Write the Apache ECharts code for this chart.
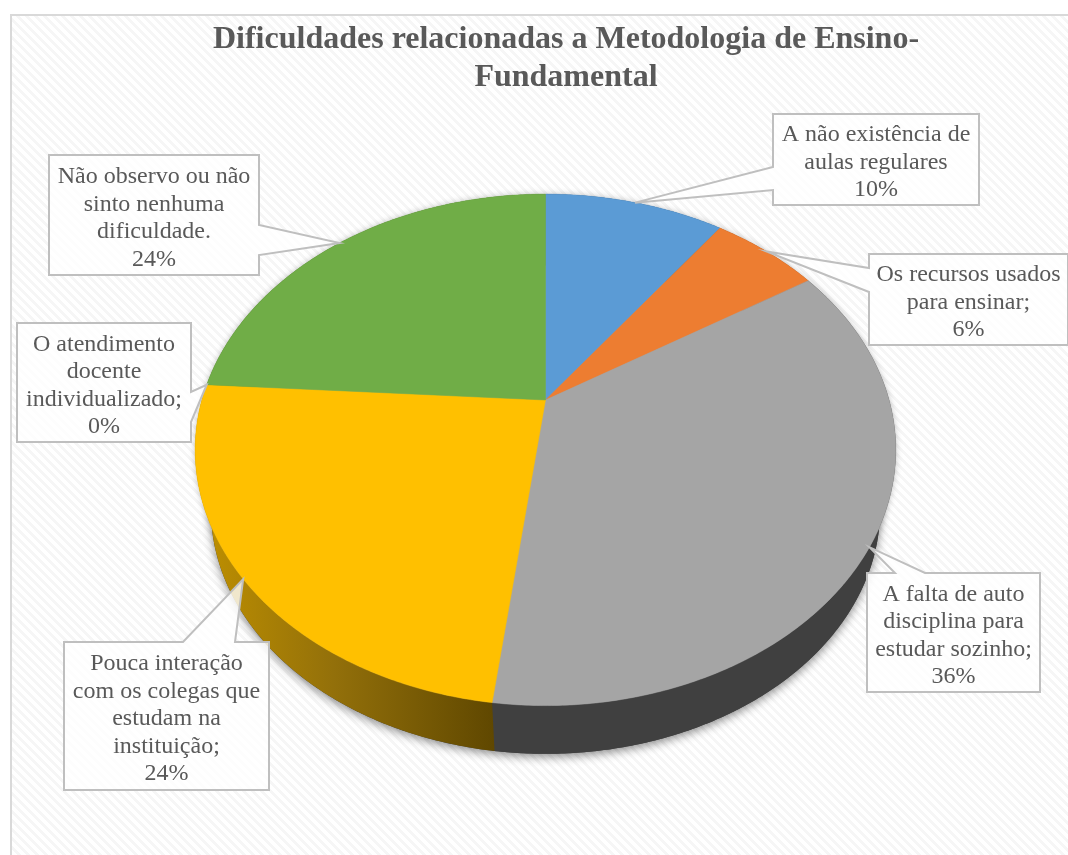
<!DOCTYPE html>
<html><head><meta charset="utf-8">
<style>html,body{margin:0;padding:0;background:#fff}#c{width:1068px;height:855px}</style>
<script src="https://cdn.jsdelivr.net/npm/echarts@6/dist/echarts.min.js"></script>
</head><body><div id="c"></div>
<script>
const titleText = 'Dificuldades relacionadas a Metodologia de Ensino-\nFundamental';
const categories = [
  'A não existência de\naulas regulares',
  'Os recursos usados\npara ensinar;',
  'A falta de auto\ndisciplina para\nestudar sozinho;',
  'Pouca interação\ncom os colegas que\nestudam na\ninstituição;',
  'O atendimento\ndocente\nindividualizado;',
  'Não observo ou não\nsinto nenhuma\ndificuldade.'
];
const values = [10, 6, 36, 24, 0, 24];
const colors = ['#5b9bd5', '#ed7d31', '#a5a5a5', '#ffc000', '#4472c4', '#70ad47'];
// callout boxes: x0, y0, x1, y1, side carrying the leader, leader base start, leader base end
const boxes = [
  [773, 114, 979, 205, 'l', 167, 190],
  [869, 254, 1068, 345, 'l', 268, 292],
  [867, 573, 1040, 692, 't', 895, 925],
  [64, 642, 269, 790, 't', 183, 235],
  [17, 323, 191, 442, 'r', 392, 422],
  [49, 155, 259, 275, 'r', 225, 255]
];

const FONT = '"Liberation Serif","Times New Roman",serif';
const TEXT = '#595959', EDGE = '#bfbfbf';
const CX = 545.5, CY = 400, K = 0.195, A = 246, R = 343.6;
const DEPTH = 62, SHRINK = 0.955;

const total = values.reduce((a, b) => a + b, 0);
const starts = [];
values.reduce((acc, v, i) => (starts[i] = acc, acc + v), 0);

// perspective projection of a point on the unit pie disc
function proj(deg, r = 1, lower = false) {
  const t = deg * Math.PI / 180, u = r * Math.sin(t), v = r * Math.cos(t), w = 1 + K * v;
  const s = lower ? SHRINK : 1, dy = lower ? DEPTH : 0;
  return [CX + s * R * u / w, CY + dy - s * A * v / w];
}
function arc(d0, d1, lower) {
  const pts = [], n = Math.max(1, Math.ceil(Math.abs(d1 - d0) * 2));
  for (let i = 0; i <= n; i++) pts.push(proj(d0 + (d1 - d0) * i / n, 1, lower));
  return pts;
}
const deg = i => starts[i] / total * 360;
const degEnd = i => (starts[i] + values[i]) / total * 360;

const patternCanvas = document.createElement('canvas');
patternCanvas.width = patternCanvas.height = 9;
(function () {
  const g = patternCanvas.getContext('2d');
  g.fillStyle = '#ffffff'; g.fillRect(0, 0, 9, 9);
  g.fillStyle = '#f6f6f6';
  for (let y = 0; y < 9; y++) for (let x = 0; x < 9; x++)
    if (((x - y) % 9 + 9) % 9 < 4) g.fillRect(x, y, 1, 1);
})();

function sideGradient() {
  return new echarts.graphic.LinearGradient(200, 0, 496, 0, [
    { offset: 0, color: '#bf9000' }, { offset: 0.45, color: '#93700a' }, { offset: 1, color: '#5f4700' }
  ], true);
}
const sideFill = ['#2f5f8a', '#a0541f', '#404040', null, '#2c4a80', '#4a7330'];

const rows = values.map((v, i) => ({ name: categories[i], value: v }));

const chart = echarts.init(document.getElementById('c'), null, { renderer: 'canvas' });
chart.setOption({
  animation: false,
  backgroundColor: '#ffffff',
  title: {
    text: titleText, left: 561, top: 16, textAlign: 'center',
    textStyle: { fontFamily: FONT, fontSize: 32, fontWeight: 'bold', color: TEXT, lineHeight: 38 }
  },
  graphic: [{
    type: 'rect', z: -1, silent: true,
    shape: { x: 11, y: 15, width: 1080, height: 860 },
    style: { fill: { image: patternCanvas, repeat: 'repeat' }, stroke: '#d9d9d9', lineWidth: 2 }
  }],
  series: [
    { // soft shadow and extruded side
      type: 'custom', coordinateSystem: 'none', z: 2, silent: true, data: rows,
      renderItem(p) {
        const i = p.dataIndex, children = [];
        if (i === 0) {
          children.push({ type: 'polygon', shape: { points: arc(0, 360, true) },
            style: { fill: '#404040', shadowBlur: 10, shadowColor: 'rgba(0,0,0,0.45)', shadowOffsetY: 3 } });
          children.push({ type: 'polygon', shape: { points: arc(0, 360, false) },
            style: { fill: '#a5a5a5', shadowBlur: 6, shadowColor: 'rgba(0,0,0,0.25)' } });
        }
        if (values[i] > 0) {
          const top = arc(deg(i), degEnd(i), false), low = arc(deg(i), degEnd(i), true).reverse();
          children.push({ type: 'polygon', shape: { points: top.concat(low) },
            style: { fill: sideFill[i] || sideGradient(), stroke: null } });
        }
        return { type: 'group', children };
      }
    },
    { // pie top faces
      type: 'custom', coordinateSystem: 'none', z: 3, silent: true, data: rows,
      renderItem(p) {
        const i = p.dataIndex;
        if (!values[i]) return { type: 'group', children: [] };
        return { type: 'polygon', shape: { points: [[CX, CY]].concat(arc(deg(i), degEnd(i), false)) },
          style: { fill: colors[i], stroke: colors[i], lineWidth: 0.5 } };
      }
    },
    { // callout labels
      type: 'custom', coordinateSystem: 'none', z: 4, silent: true, data: rows,
      renderItem(p) {
        const i = p.dataIndex, b = boxes[i];
        const [x0, y0, x1, y1, side, a, c] = b;
        const tip = proj((deg(i) + degEnd(i)) / 2);
        let pts;
        if (side === 'l') pts = [[x0, y0], [x1, y0], [x1, y1], [x0, y1], [x0, c], tip, [x0, a]];
        else if (side === 'r') pts = [[x0, y0], [x1, y0], [x1, a], tip, [x1, c], [x1, y1], [x0, y1]];
        else pts = [[x0, y0], [a, y0], tip, [c, y0], [x1, y0], [x1, y1], [x0, y1]];
        return { type: 'group', children: [
          { type: 'polygon', shape: { points: pts },
            style: { fill: 'rgba(255,255,255,0.8)', stroke: EDGE, lineWidth: 2 } },
          { type: 'text', style: {
              text: categories[i] + '\n' + values[i] + '%',
              x: (x0 + x1) / 2, y: (y0 + y1) / 2 + 3, align: 'center', verticalAlign: 'middle',
              fontFamily: FONT, fontSize: 24, lineHeight: 27.5, fill: TEXT } }
        ] };
      }
    }
  ]
});
</script></body></html>
